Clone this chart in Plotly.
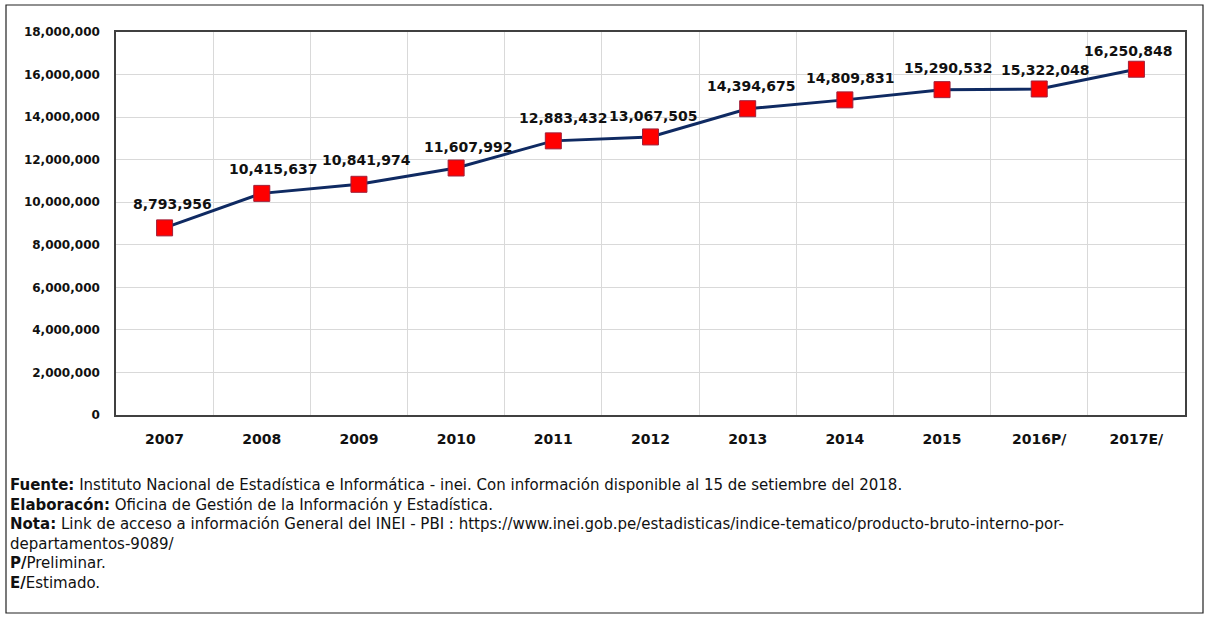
import plotly.graph_objects as go

years = ["2007", "2008", "2009", "2010", "2011", "2012", "2013", "2014", "2015", "2016P/", "2017E/"]
values = [8793956, 10415637, 10841974, 11607992, 12883432, 13067505, 14394675, 14809831, 15290532, 15322048, 16250848]
y_ticks = [0, 2000000, 4000000, 6000000, 8000000, 10000000, 12000000, 14000000, 16000000, 18000000]

footer_lines = [
    "<b>Fuente:</b> Instituto Nacional de Estadística e Informática - inei. Con información disponible al 15 de setiembre del 2018.",
    "<b>Elaboracón:</b> Oficina de Gestión de la Información y Estadística.",
    "<b>Nota:</b> Link de acceso a información General del INEI - PBI : https://www.inei.gob.pe/estadisticas/indice-tematico/producto-bruto-interno-por-",
    "departamentos-9089/",
    "<b>P/</b>Preliminar.",
    "<b>E/</b>Estimado.",
]

# label placement style (pixel shifts of each data label relative to its marker)
label_dx = [8, 12, 8, 12, 10, 3, 4, 6, 6, 6, -8]
label_dy = [24, 24, 24, 21, 23, 21, 23, 22, 22, 19, 18]

W, H = 1208, 618
L, R, T, B = 116, 1185, 32, 415
pw, ph = R - L, B - T

def px_x(x):
    return (x - L) / pw

def px_y(y):
    return (B - y) / ph

fig = go.Figure()
fig.add_trace(go.Scatter(
    x=years, y=values,
    mode="lines+markers",
    line=dict(color="#0F2A62", width=3),
    marker=dict(symbol="square", size=16, color="#FF0000", line=dict(color="#A0203A", width=1)),
    cliponaxis=False,
    hoverinfo="skip",
))

for i, (v, dx, dy) in enumerate(zip(values, label_dx, label_dy)):
    fig.add_annotation(
        x=i, y=v, text=f"{v:,}", showarrow=False,
        xanchor="center", yanchor="middle", xshift=dx, yshift=dy,
        font=dict(family="DejaVu Sans", size=14, color="#111111", weight="bold"),
    )

fig.update_layout(
    width=W, height=H,
    margin=dict(l=L, r=W - R, t=T, b=H - B, autoexpand=False),
    paper_bgcolor="white", plot_bgcolor="white",
    showlegend=False,
    xaxis=dict(
        type="category", range=[-0.5, 10.5],
        showgrid=True, gridcolor="#D9D9D9", gridwidth=1,
        tickson="boundaries", ticks="", ticklen=0,
        showline=True, linecolor="#404040", linewidth=1.5, mirror=True,
        tickfont=dict(family="DejaVu Sans", size=14, color="#111111", weight="bold"),
        ticklabelstandoff=10,
    ),
    yaxis=dict(
        range=[0, 18000000], tickvals=y_ticks,
        ticktext=[f"{v:,}" for v in y_ticks],
        showgrid=True, gridcolor="#D9D9D9", gridwidth=1,
        showline=True, linecolor="#404040", linewidth=1.5, mirror=True,
        zeroline=False,
        tickfont=dict(family="DejaVu Sans", size=12, color="#111111", weight="bold"),
        ticklabelstandoff=12,
    ),
)

# outer border
fig.add_shape(type="rect", xref="paper", yref="paper",
              x0=px_x(6), x1=px_x(1203), y0=px_y(613), y1=px_y(5),
              line=dict(color="#222222", width=1.2), fillcolor="rgba(0,0,0,0)", layer="below")

fig.add_annotation(
    xref="paper", yref="paper",
    x=px_x(8), y=px_y(474),
    xanchor="left", yanchor="top",
    text="<br>".join(footer_lines), showarrow=False, align="left",
    font=dict(family="DejaVu Sans", size=15, color="#111111"),
)

fig.write_html("out.html", config={"displayModeBar": False},
               post_script="document.body.style.margin='0';document.body.style.overflow='hidden';")
